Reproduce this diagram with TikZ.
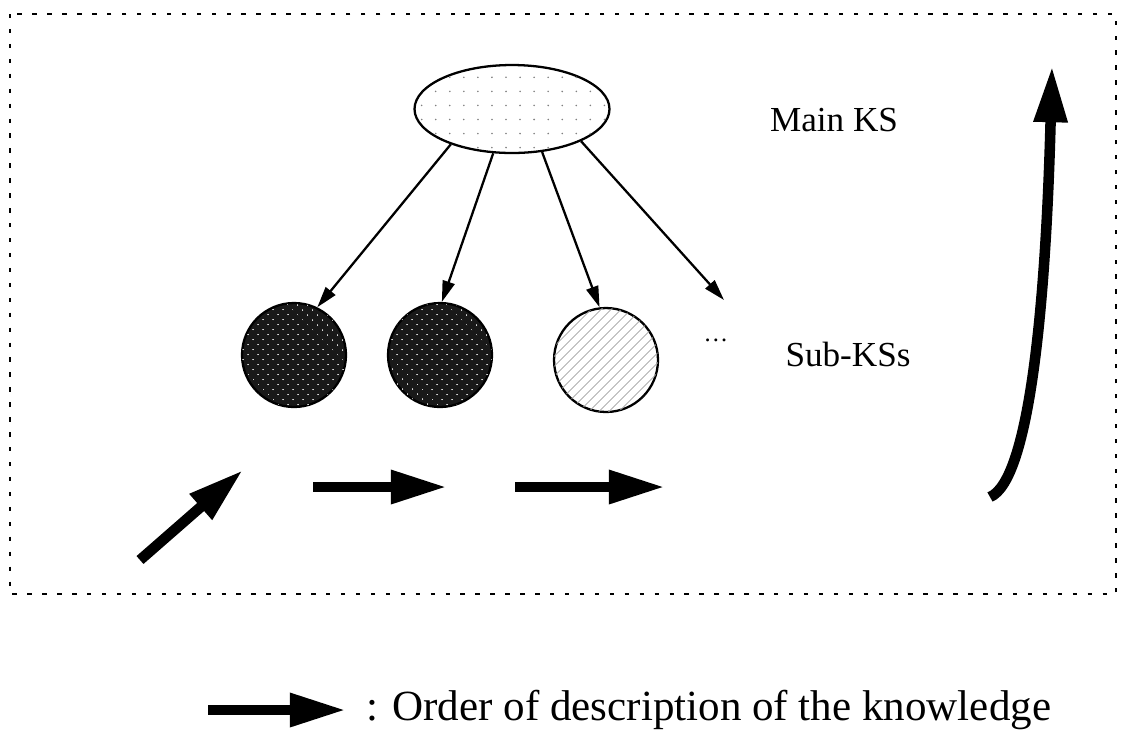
\documentclass[tikz,border=0pt]{standalone}
\usepackage{fontspec}
\setmainfont{Liberation Serif}
\usetikzlibrary{arrows.meta,shapes.geometric,patterns.meta}

\tikzset{
	ks/.style={draw, line width=1.3pt, inner sep=0pt},
	subks/.style={ks, circle, minimum size=2.08cm},
	link/.style={line width=1.3pt, -{Triangle[length=12pt,width=7pt]}},
	order/.style={line width=6pt, -{Triangle[length=32pt,width=18pt]}},
	lbl/.style={font=\fontsize{20}{24}\selectfont},
}

\begin{document}
\begin{tikzpicture}[x=0.02cm, y=-0.02cm]
	\useasboundingbox (0,0) rectangle (1121,752);
	% frame
	\draw[line width=1.2pt, dash pattern=on 2.5pt off 6pt] (10,14) rectangle (1116,594);
	% main KS and sub-KSs
	\node [ks, ellipse, minimum width=3.9cm, minimum height=1.76cm, fill=white,
		postaction={pattern={Dots[distance=8pt,radius=0.5pt]}, pattern color=gray}] (main) at (512,109) {};
	\node [subks, fill=black!90,
		postaction={pattern={Dots[distance=4pt,radius=0.4pt,angle=45]}, pattern color=white}] (sub1) at (294,355) {};
	\node [subks, fill=black!90,
		postaction={pattern={Dots[distance=4pt,radius=0.4pt,angle=45]}, pattern color=white}] (sub2) at (440,355) {};
	\node [subks, fill=white,
		postaction={pattern={Lines[distance=4pt,angle=45,line width=0.5pt]}, pattern color=gray!70}] (sub3) at (606,360) {};
	\node [font=\fontsize{14}{16}\selectfont] (etc) at (716,340) {\dots};
	\coordinate (more) at (724,300);
	\draw[link] (main.-150) -- (sub1.64);
	\draw[link] (main.-113) -- (sub2.88);
	\draw[link] (main.-55) -- (sub3.97);
	\draw[link] (main.-25) -- (more);
	\node [lbl] (mainlbl) at (834,120) {Main KS};
	\node [lbl] (sublbl) at (848,354) {Sub-KSs};
	% order of description
	\coordinate (o1a) at (140,560);
	\coordinate (o1b) at (243,470);
	\coordinate (o2a) at (313,487);
	\coordinate (o2b) at (447,487);
	\coordinate (o3a) at (515,487);
	\coordinate (o3b) at (665,487);
	\coordinate (upa) at (990,497);
	\coordinate (upb) at (1052,66);
	\draw[order] (o1a) -- (o1b);
	\draw[order] (o2a) -- (o2b);
	\draw[order] (o3a) -- (o3b);
	\draw[order] (upa) .. controls (1030,480) and (1046,300) .. (upb);
	% legend
	\coordinate (keya) at (208,710);
	\coordinate (keyb) at (346,710);
	\draw[order] (keya) -- (keyb);
	\node [font=\fontsize{24.5}{28}\selectfont, anchor=west] (keytxt) at (360,710) {: Order of description of the knowledge};
\end{tikzpicture}
\end{document}
